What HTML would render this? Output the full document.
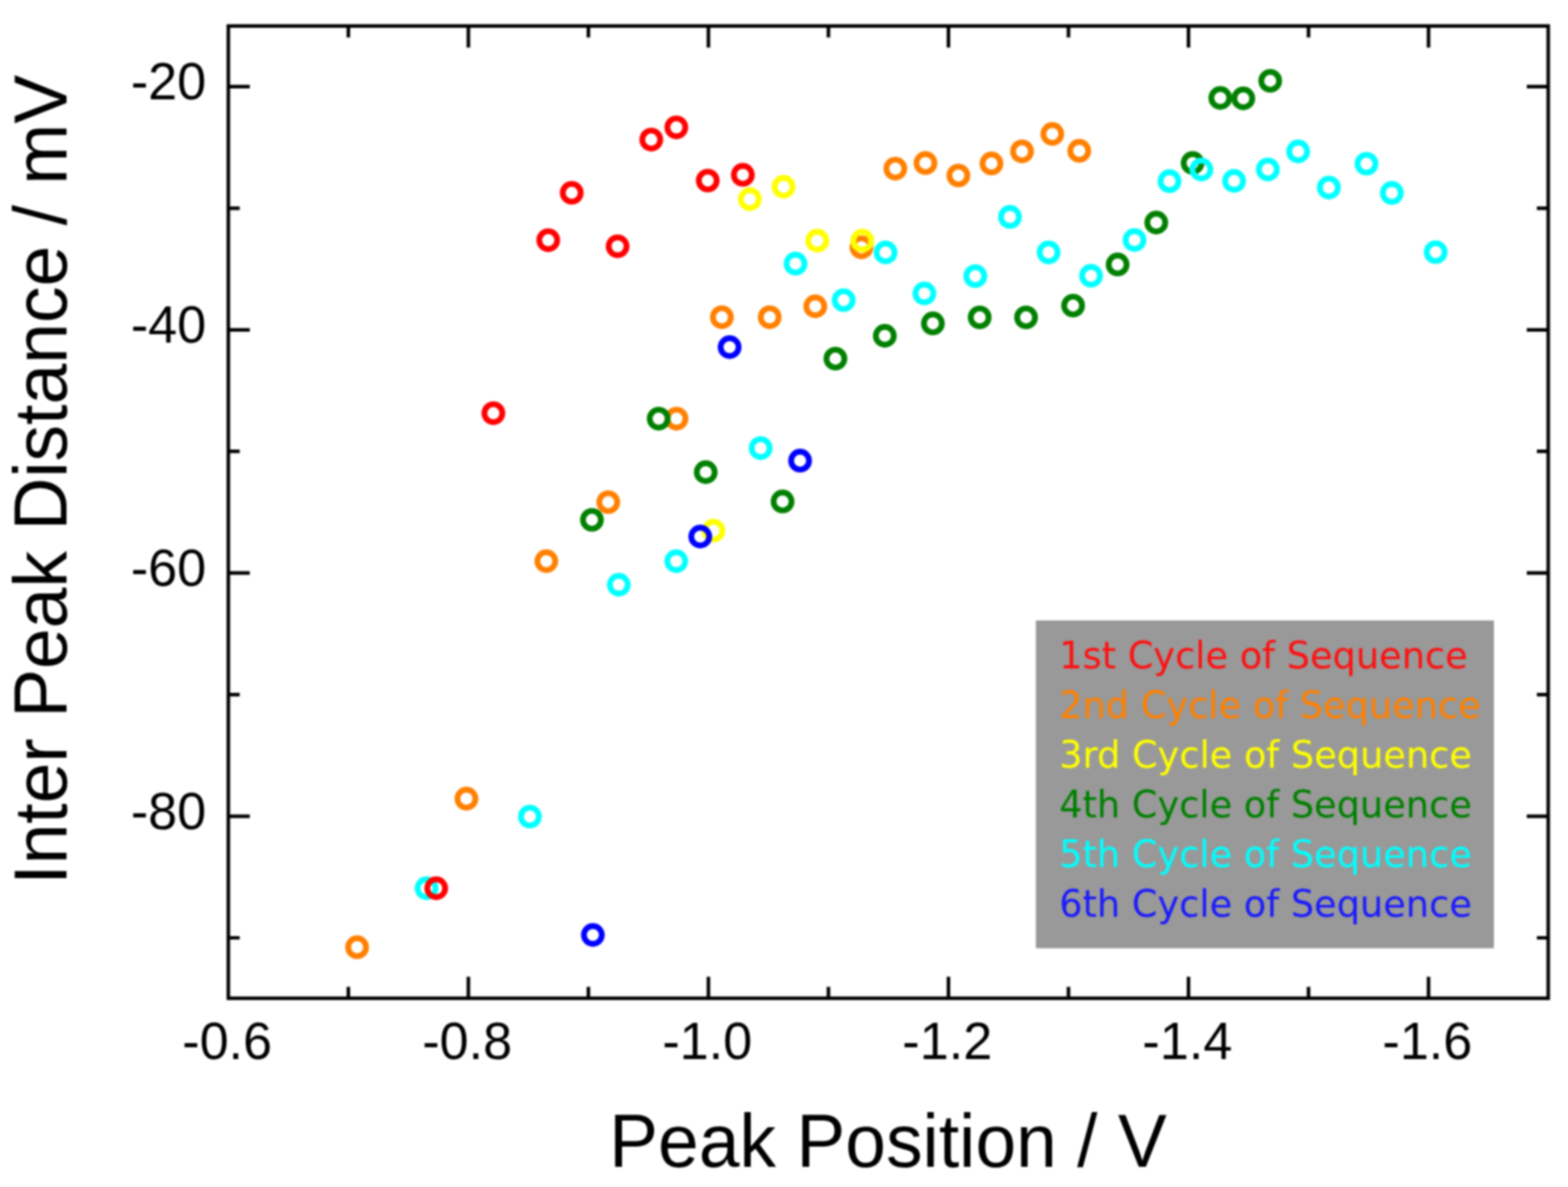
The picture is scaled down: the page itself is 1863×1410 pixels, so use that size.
<!DOCTYPE html>
<html><head><meta charset="utf-8"><title>Inter Peak Distance vs Peak Position</title>
<style>
html,body{margin:0;padding:0;background:#fff;}
body{width:1863px;height:1410px;overflow:hidden;}
svg{display:block;filter:blur(0.9px);}
.t{font-family:"Liberation Sans",Arial,sans-serif;fill:#000;}
.lg{font-family:"DejaVu Sans",Verdana,sans-serif;}
</style></head>
<body>
<svg width="1863" height="1410" viewBox="0 0 1863 1410">
<rect x="0" y="0" width="1863" height="1410" fill="#fff"/>
<rect x="1230.75" y="737" width="544.25" height="389.4" fill="#999999"/>
<g class="lg" font-size="43.6">
<text x="1258.5" y="794.2" fill="#ff1010">1st Cycle of Sequence</text>
<text x="1258.5" y="853.1" fill="#ff8000">2nd Cycle of Sequence</text>
<text x="1258.5" y="911.9" fill="#ffff00">3rd Cycle of Sequence</text>
<text x="1258.5" y="970.8" fill="#008000">4th Cycle of Sequence</text>
<text x="1258.5" y="1029.6" fill="#00ffff">5th Cycle of Sequence</text>
<text x="1258.5" y="1088.5" fill="#1a1aff">6th Cycle of Sequence</text>
</g>
<g fill="none" stroke="#ff8000" stroke-width="6.9">
<circle cx="1250.3" cy="159.1" r="10.65"/>
<circle cx="1282.3" cy="179.2" r="10.65"/>
<circle cx="1214.3" cy="179.8" r="10.65"/>
<circle cx="1178.0" cy="194.2" r="10.65"/>
<circle cx="1099.6" cy="193.7" r="10.65"/>
<circle cx="1063.8" cy="200.3" r="10.65"/>
<circle cx="1138.7" cy="208.5" r="10.65"/>
<circle cx="1023.6" cy="293.8" r="10.65"/>
<circle cx="968.7" cy="363.9" r="10.65"/>
<circle cx="857.7" cy="376.8" r="10.65"/>
<circle cx="914.5" cy="376.8" r="10.65"/>
<circle cx="803.8" cy="497.3" r="10.65"/>
<circle cx="722.7" cy="596.5" r="10.65"/>
<circle cx="649.1" cy="666.6" r="10.65"/>
<circle cx="554.2" cy="948.7" r="10.65"/>
<circle cx="424.3" cy="1125.2" r="10.65"/>
</g>
<g fill="none" stroke="#ffff00" stroke-width="6.9">
<circle cx="931.0" cy="221.9" r="10.65"/>
<circle cx="890.9" cy="236.6" r="10.65"/>
<circle cx="971.0" cy="285.9" r="10.65"/>
<circle cx="1024.5" cy="285.9" r="10.65"/>
<circle cx="847.7" cy="630.4" r="10.65"/>
</g>
<g fill="none" stroke="#008000" stroke-width="6.9">
<circle cx="1509.2" cy="96.0" r="10.65"/>
<circle cx="1449.9" cy="116.4" r="10.65"/>
<circle cx="1477.2" cy="116.9" r="10.65"/>
<circle cx="1417.0" cy="193.6" r="10.65"/>
<circle cx="1373.8" cy="264.4" r="10.65"/>
<circle cx="1327.9" cy="314.2" r="10.65"/>
<circle cx="1275.0" cy="363.0" r="10.65"/>
<circle cx="1219.1" cy="377.0" r="10.65"/>
<circle cx="1164.0" cy="377.0" r="10.65"/>
<circle cx="1108.4" cy="384.2" r="10.65"/>
<circle cx="1051.3" cy="398.9" r="10.65"/>
<circle cx="992.6" cy="426.0" r="10.65"/>
<circle cx="782.6" cy="497.3" r="10.65"/>
<circle cx="838.5" cy="560.9" r="10.65"/>
<circle cx="929.8" cy="595.7" r="10.65"/>
<circle cx="703.3" cy="617.5" r="10.65"/>
</g>
<g fill="none" stroke="#00ffff" stroke-width="6.9">
<circle cx="1542.4" cy="179.9" r="10.65"/>
<circle cx="1623.6" cy="194.5" r="10.65"/>
<circle cx="1506.4" cy="201.3" r="10.65"/>
<circle cx="1427.4" cy="201.4" r="10.65"/>
<circle cx="1466.3" cy="214.9" r="10.65"/>
<circle cx="1389.5" cy="215.2" r="10.65"/>
<circle cx="1578.9" cy="222.8" r="10.65"/>
<circle cx="1653.7" cy="229.2" r="10.65"/>
<circle cx="1200.0" cy="257.7" r="10.65"/>
<circle cx="1705.8" cy="299.5" r="10.65"/>
<circle cx="1245.9" cy="299.8" r="10.65"/>
<circle cx="1052.2" cy="299.9" r="10.65"/>
<circle cx="1348.0" cy="285.1" r="10.65"/>
<circle cx="945.2" cy="313.2" r="10.65"/>
<circle cx="1158.8" cy="328.0" r="10.65"/>
<circle cx="1296.3" cy="327.6" r="10.65"/>
<circle cx="1002.4" cy="356.5" r="10.65"/>
<circle cx="1098.3" cy="348.6" r="10.65"/>
<circle cx="903.8" cy="532.3" r="10.65"/>
<circle cx="803.5" cy="666.6" r="10.65"/>
<circle cx="735.2" cy="694.6" r="10.65"/>
<circle cx="629.6" cy="970.0" r="10.65"/>
<circle cx="506.8" cy="1055.1" r="10.65"/>
</g>
<g fill="none" stroke="#0000ff" stroke-width="6.9">
<circle cx="866.9" cy="412.4" r="10.65"/>
<circle cx="950.6" cy="547.2" r="10.65"/>
<circle cx="832.0" cy="637.4" r="10.65"/>
<circle cx="704.4" cy="1110.6" r="10.65"/>
</g>
<g fill="none" stroke="#ff0000" stroke-width="6.9">
<circle cx="803.6" cy="151.3" r="10.65"/>
<circle cx="773.8" cy="165.8" r="10.65"/>
<circle cx="840.9" cy="214.5" r="10.65"/>
<circle cx="882.6" cy="207.7" r="10.65"/>
<circle cx="679.3" cy="229.0" r="10.65"/>
<circle cx="651.4" cy="285.3" r="10.65"/>
<circle cx="733.8" cy="292.6" r="10.65"/>
<circle cx="586.2" cy="490.8" r="10.65"/>
<circle cx="518.3" cy="1055.1" r="10.65"/>
</g>
<rect x="271.3" y="30.9" width="1568.2" height="1154.9" fill="none" stroke="#000" stroke-width="4.2"/>
<path d="M413.9 1185.8V1172.3M413.9 30.9V44.4M556.5 1185.8V1160.3M556.5 30.9V56.4M699.1 1185.8V1172.3M699.1 30.9V44.4M841.7 1185.8V1160.3M841.7 30.9V56.4M984.3 1185.8V1172.3M984.3 30.9V44.4M1126.9 1185.8V1160.3M1126.9 30.9V56.4M1269.5 1185.8V1172.3M1269.5 30.9V44.4M1412.1 1185.8V1160.3M1412.1 30.9V56.4M1554.7 1185.8V1172.3M1554.7 30.9V44.4M1697.3 1185.8V1160.3M1697.3 30.9V56.4M271.3 102.9H296.8M1839.5 102.9H1814.0M271.3 247.3H284.8M1839.5 247.3H1826.0M271.3 391.8H296.8M1839.5 391.8H1814.0M271.3 536.2H284.8M1839.5 536.2H1826.0M271.3 680.7H296.8M1839.5 680.7H1814.0M271.3 825.1H284.8M1839.5 825.1H1826.0M271.3 969.6H296.8M1839.5 969.6H1814.0M271.3 1114.0H284.8M1839.5 1114.0H1826.0" stroke="#000" stroke-width="4.2" fill="none"/>
<g class="t" font-size="62">
<text transform="translate(269.9 1258.4) scale(1 1.015)" text-anchor="middle">-0.6</text>
<text transform="translate(555.1 1258.4) scale(1 1.015)" text-anchor="middle">-0.8</text>
<text transform="translate(840.3 1258.4) scale(1 1.015)" text-anchor="middle">-1.0</text>
<text transform="translate(1125.5 1258.4) scale(1 1.015)" text-anchor="middle">-1.2</text>
<text transform="translate(1410.7 1258.4) scale(1 1.015)" text-anchor="middle">-1.4</text>
<text transform="translate(1695.9 1258.4) scale(1 1.015)" text-anchor="middle">-1.6</text>
<text transform="translate(245 118.4) scale(1 1.025)" text-anchor="end">-20</text>
<text transform="translate(245 407.3) scale(1 1.025)" text-anchor="end">-40</text>
<text transform="translate(245 696.2) scale(1 1.025)" text-anchor="end">-60</text>
<text transform="translate(245 985.1) scale(1 1.025)" text-anchor="end">-80</text>
</g>
<text class="t" transform="translate(1055 1386.2) scale(1 1.02)" font-size="87" text-anchor="middle">Peak Position / V</text>
<text class="t" transform="translate(78.6 570) rotate(-90) scale(1 1.02)" font-size="87" text-anchor="middle">Inter Peak Distance / mV</text>
</svg>
</body></html>
